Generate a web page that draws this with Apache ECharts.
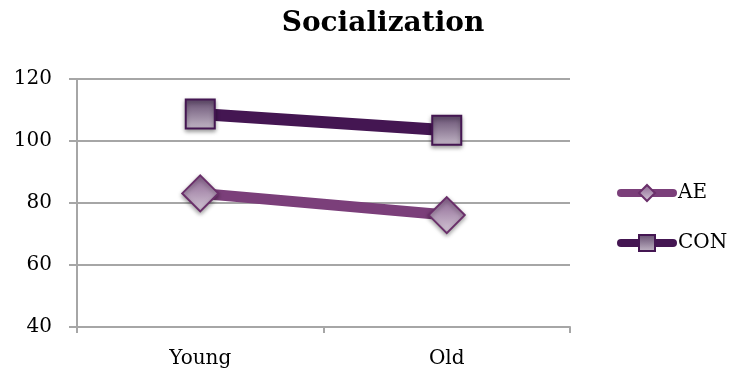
<!DOCTYPE html>
<html>
<head>
<meta charset="utf-8">
<script src="https://cdn.jsdelivr.net/npm/echarts@6/dist/echarts.min.js"></script>
<style>
  html, body { margin: 0; padding: 0; background: #fff; }
  #chart { width: 736px; height: 371px; }
</style>
</head>
<body>
<div id="chart"></div>
<script>
// Socialization scores by age group
const categories = ['Young', 'Old'];
const aeValues = [83.1, 76.1];
const conValues = [108.7, 103.5];
const yTicks = { min: 40, max: 120, interval: 20 };

const FONT = '"DejaVu Serif", "Liberation Serif", serif';
const AXIS_GRAY = '#a6a6a6';

function markerFill(top, bottom) {
  return new echarts.graphic.LinearGradient(0, 0, 0, 1, [
    { offset: 0, color: top },
    { offset: 1, color: bottom }
  ]);
}

const chart = echarts.init(document.getElementById('chart'), null, { renderer: 'canvas' });

chart.setOption({
  animation: false,
  backgroundColor: '#ffffff',
  title: {
    text: 'Socialization',
    left: 378,
    top: 5,
    textAlign: 'center',
    textStyle: { fontFamily: FONT, fontWeight: 'bold', fontSize: 28, color: '#000' }
  },
  grid: { left: 77, right: 166, top: 79, bottom: 44, containLabel: false },
  legend: {
    orient: 'vertical',
    left: 617,
    top: 183,
    padding: 0,
    itemGap: 30,
    itemWidth: 52,
    itemHeight: 20,
    textStyle: { fontFamily: FONT, fontSize: 20, color: '#000' },
    data: [
      { name: 'AE', lineStyle: { width: 8, cap: 'round' } },
      { name: 'CON', lineStyle: { width: 8, cap: 'round' } }
    ]
  },
  xAxis: {
    type: 'category',
    data: categories,
    boundaryGap: true,
    axisLine: { lineStyle: { color: AXIS_GRAY, width: 2 } },
    axisTick: { show: true, length: 6, lineStyle: { color: AXIS_GRAY, width: 2 } },
    axisLabel: { fontFamily: FONT, fontSize: 20, color: '#000', margin: 22 },
    splitLine: { show: false }
  },
  yAxis: {
    type: 'value',
    min: yTicks.min,
    max: yTicks.max,
    interval: yTicks.interval,
    axisLine: { show: true, lineStyle: { color: AXIS_GRAY, width: 2 } },
    axisTick: { show: true, length: 8, lineStyle: { color: AXIS_GRAY, width: 2 } },
    axisLabel: { fontFamily: FONT, fontSize: 20, color: '#000', margin: 25 },
    splitLine: { show: true, lineStyle: { color: AXIS_GRAY, width: 2 } }
  },
  series: [
    {
      name: 'AE',
      type: 'line',
      data: aeValues,
      symbol: 'diamond',
      symbolSize: [36, 36],
      lineStyle: { color: '#7b3f7a', width: 11, cap: 'round' },
      itemStyle: {
        color: markerFill('#8a6390', '#d6cad8'),
        borderColor: '#6a2f6a',
        borderWidth: 2,
        shadowColor: 'rgba(0,0,0,0.35)',
        shadowBlur: 4,
        shadowOffsetY: 2
      },
      z: 3
    },
    {
      name: 'CON',
      type: 'line',
      data: conValues,
      symbol: 'rect',
      symbolSize: [29, 29],
      lineStyle: { color: '#441652', width: 12, cap: 'round' },
      itemStyle: {
        color: markerFill('#634b6e', '#c4b8c8'),
        borderColor: '#441652',
        borderWidth: 2,
        shadowColor: 'rgba(0,0,0,0.35)',
        shadowBlur: 4,
        shadowOffsetY: 2
      },
      z: 4
    }
  ]
});
</script>
</body>
</html>
